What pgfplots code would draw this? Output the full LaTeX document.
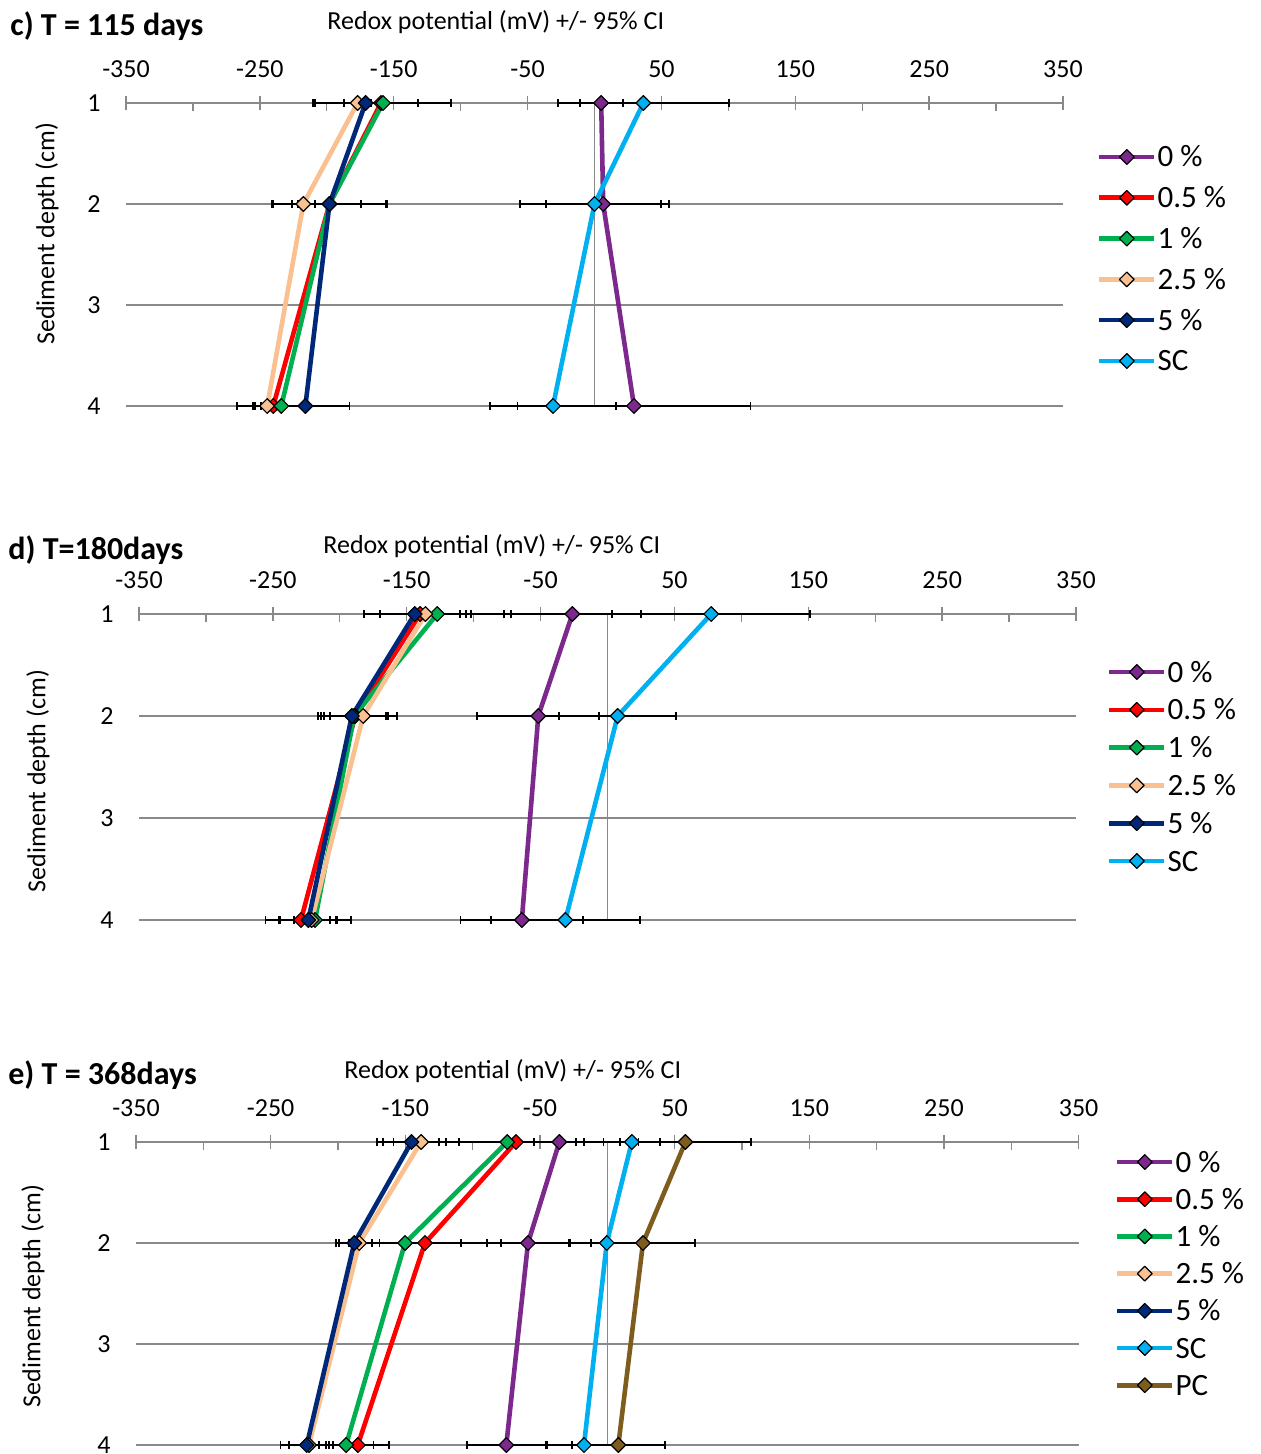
\documentclass[border=0pt]{standalone}
\usepackage{fontspec}
\setmainfont{Carlito}
\usepackage{pgfplots}
\pgfplotsset{compat=1.18}
\definecolor{cP}{RGB}{125,40,140}
\definecolor{cR}{RGB}{255,0,0}
\definecolor{cG}{RGB}{0,176,80}
\definecolor{cO}{RGB}{250,192,144}
\definecolor{cN}{RGB}{0,40,120}
\definecolor{cS}{RGB}{0,176,240}
\definecolor{cB}{RGB}{126,92,30}
\definecolor{gridgray}{RGB}{137,137,137}
\pgfplotsset{
 ser/.style={draw=#1, line width=2.3pt, line join=round,
  mark=square*, mark size=2.6pt,
  mark options={rotate=45, draw=black, fill=#1, line width=0.6pt},
  error bars/x dir=both, error bars/x explicit,
  error bars/error bar style={black, line width=0.95pt},
  error bars/error mark options={rotate=90, black, line width=0.95pt, mark size=2pt}},
 redox/.style={
  scale only axis, clip=false,
  xmin=-350, xmax=350, ymin=1, ymax=4, y dir=reverse,
  xtick={-350,-250,-150,-50,50,150,250,350},
  xticklabels={-350,-250,-150,-50,50,150,250,350},
  minor x tick num=1,
  ytick={1,2,3,4}, yticklabels={1,2,3,4},
  axis line style={draw=none},
  xtick pos=right, xticklabel pos=right, ytick pos=left,
  ytick style={draw=none},
  tick align=inside,
  major tick length=7.3pt, minor tick length=3.8pt,
  tick style={gridgray, line width=0.7pt},
  every major x tick/.append style={yshift=3.65pt},
  ymajorgrids,
  major grid style={gridgray, line width=0.75pt},
  extra x ticks={0}, extra x tick labels={},
  extra x tick style={xmajorgrids=true, major tick length=0pt},
  xticklabel style={font=\fontsize{13}{15}\selectfont, anchor=base, inner sep=0pt, yshift=12.9pt},
  yticklabel style={font=\fontsize{13}{15}\selectfont, anchor=east, inner sep=0pt, xshift=-12.5pt},
  legend cell align=left,
  legend style={anchor=north west, draw=none, fill=none, inner sep=0pt, outer sep=0pt,
    column sep=0.5pt, font=\fontsize{15.5}{18}\selectfont,
    nodes={inner sep=0pt, text height=12.5pt, text depth=2.5pt}},
  legend image code/.code={\draw[mark repeat=2,mark phase=2] plot coordinates {(0pt,0pt) (13.75pt,0pt) (27.5pt,0pt)};},
 }
}
\begin{document}
\begin{tikzpicture}
\useasboundingbox (0,0) rectangle (630pt,-727pt);
% ---------------- panel c
\node[anchor=base west, inner sep=0pt, font=\fontsize{16}{19}\selectfont\bfseries] at (5pt,-17.6pt) {c) T = 115 days};
\node[anchor=base west, inner sep=0pt, font=\fontsize{13}{15}\selectfont] at (163.5pt,-14.7pt) {Redox potential (mV) +/- 95\% CI};
\node[rotate=90, inner sep=0pt, font=\fontsize{13}{15}\selectfont] at (23.5pt,-116.75pt) {Sediment depth (cm)};
\begin{axis}[redox, at={(63pt,-51.5pt)}, anchor=north west, width=468.5pt, height=151.5pt,
  legend style={at={(1.0363,0.8713)}, row sep=5.4pt}]
\addplot[ser=cP] table[x=x, y=y, x error=e] {
x y e
5 1 16
6.5 2 43
29.5 4 87
};
\addlegendentry{0 \%}
\addplot[ser=cR] table[x=x, y=y, x error=e] {
x y e
-159.5 1 27.5
-198 2 42
-240 4 27
};
\addlegendentry{0.5 \%}
\addplot[ser=cG] table[x=x, y=y, x error=e] {
x y e
-158 1 51
-198 2 43
-234 4 21
};
\addlegendentry{1 \%}
\addplot[ser=cO] table[x=x, y=y, x error=e] {
x y e
-177 1 10
-217.5 2 8.7
-244.5 4 9
};
\addlegendentry{2.5 \%}
\addplot[ser=cN] table[x=x, y=y, x error=e] {
x y e
-171 1 39
-198 2 23.6
-216 4 33
};
\addlegendentry{5 \%}
\addplot[ser=cS] table[x=x, y=y, x error=e] {
x y e
36.5 1 64
0 2 55.7
-31 4 47
};
\addlegendentry{SC}
\end{axis}
% ---------------- panel d
\node[anchor=base west, inner sep=0pt, font=\fontsize{16}{19}\selectfont\bfseries] at (4pt,-279.7pt) {d) T=180days};
\node[anchor=base west, inner sep=0pt, font=\fontsize{13}{15}\selectfont] at (161.5pt,-276.7pt) {Redox potential (mV) +/- 95\% CI};
\node[rotate=90, inner sep=0pt, font=\fontsize{13}{15}\selectfont] at (19pt,-390.5pt) {Sediment depth (cm)};
\begin{axis}[redox, at={(69.5pt,-307pt)}, anchor=north west, width=468.5pt, height=153pt,
  legend style={at={(1.0331,0.8595)}, row sep=3.9pt}]
\addplot[ser=cP] table[x=x, y=y, x error=e] {
x y e
-26.2 1 51
-51.7 2 45.6
-64 4 45.8
};
\addlegendentry{0 \%}
\addplot[ser=cR] table[x=x, y=y, x error=e] {
x y e
-140 1 30
-188.5 2 23
-229 4 26.5
};
\addlegendentry{0.5 \%}
\addplot[ser=cG] table[x=x, y=y, x error=e] {
x y e
-127.2 1 55
-189.3 2 25
-218.5 4 27
};
\addlegendentry{1 \%}
\addplot[ser=cO] table[x=x, y=y, x error=e] {
x y e
-136 1 34
-182.5 2 25
-221 4 13.5
};
\addlegendentry{2.5 \%}
\addplot[ser=cN] table[x=x, y=y, x error=e] {
x y e
-144 1 38
-191 2 25.4
-223.5 4 21.5
};
\addlegendentry{5 \%}
\addplot[ser=cS] table[x=x, y=y, x error=e] {
x y e
77.5 1 74
7.6 2 43.6
-31.5 4 55.8
};
\addlegendentry{SC}
\end{axis}
% ---------------- panel e
\node[anchor=base west, inner sep=0pt, font=\fontsize{16}{19}\selectfont\bfseries] at (4pt,-542.2pt) {e) T = 368days};
\node[anchor=base west, inner sep=0pt, font=\fontsize{13}{15}\selectfont] at (172pt,-539.2pt) {Redox potential (mV) +/- 95\% CI};
\node[rotate=90, inner sep=0pt, font=\fontsize{13}{15}\selectfont] at (16.5pt,-648pt) {Sediment depth (cm)};
\begin{axis}[redox, at={(68pt,-571pt)}, anchor=north west, width=471.3pt, height=151.5pt,
  legend style={at={(1.0386,0.9835)}, row sep=3.6pt}]
\addplot[ser=cP] table[x=x, y=y, x error=e] {
x y e
-35.6 1 18.6
-58.9 2 30.5
-75 4 29.2
};
\addlegendentry{0 \%}
\addplot[ser=cR] table[x=x, y=y, x error=e] {
x y e
-67.8 1 91
-135.4 2 56.5
-185.3 4 23.5
};
\addlegendentry{0.5 \%}
\addplot[ser=cG] table[x=x, y=y, x error=e] {
x y e
-74.3 1 51
-150.2 2 41.7
-194 4 20.4
};
\addlegendentry{1 \%}
\addplot[ser=cO] table[x=x, y=y, x error=e] {
x y e
-138.3 1 28
-184.2 2 15
-221.5 4 15
};
\addlegendentry{2.5 \%}
\addplot[ser=cN] table[x=x, y=y, x error=e] {
x y e
-145.4 1 25.7
-187.9 2 13.3
-223.2 4 19.5
};
\addlegendentry{5 \%}
\addplot[ser=cS] table[x=x, y=y, x error=e] {
x y e
18.2 1 21
-0.4 2 27.6
-17.3 4 27.7
};
\addlegendentry{SC}
\addplot[ser=cB] table[x=x, y=y, x error=e] {
x y e
58 1 48.5
26.5 2 38.5
8.2 4 34.6
};
\addlegendentry{PC}
\end{axis}
\end{tikzpicture}
\end{document}
